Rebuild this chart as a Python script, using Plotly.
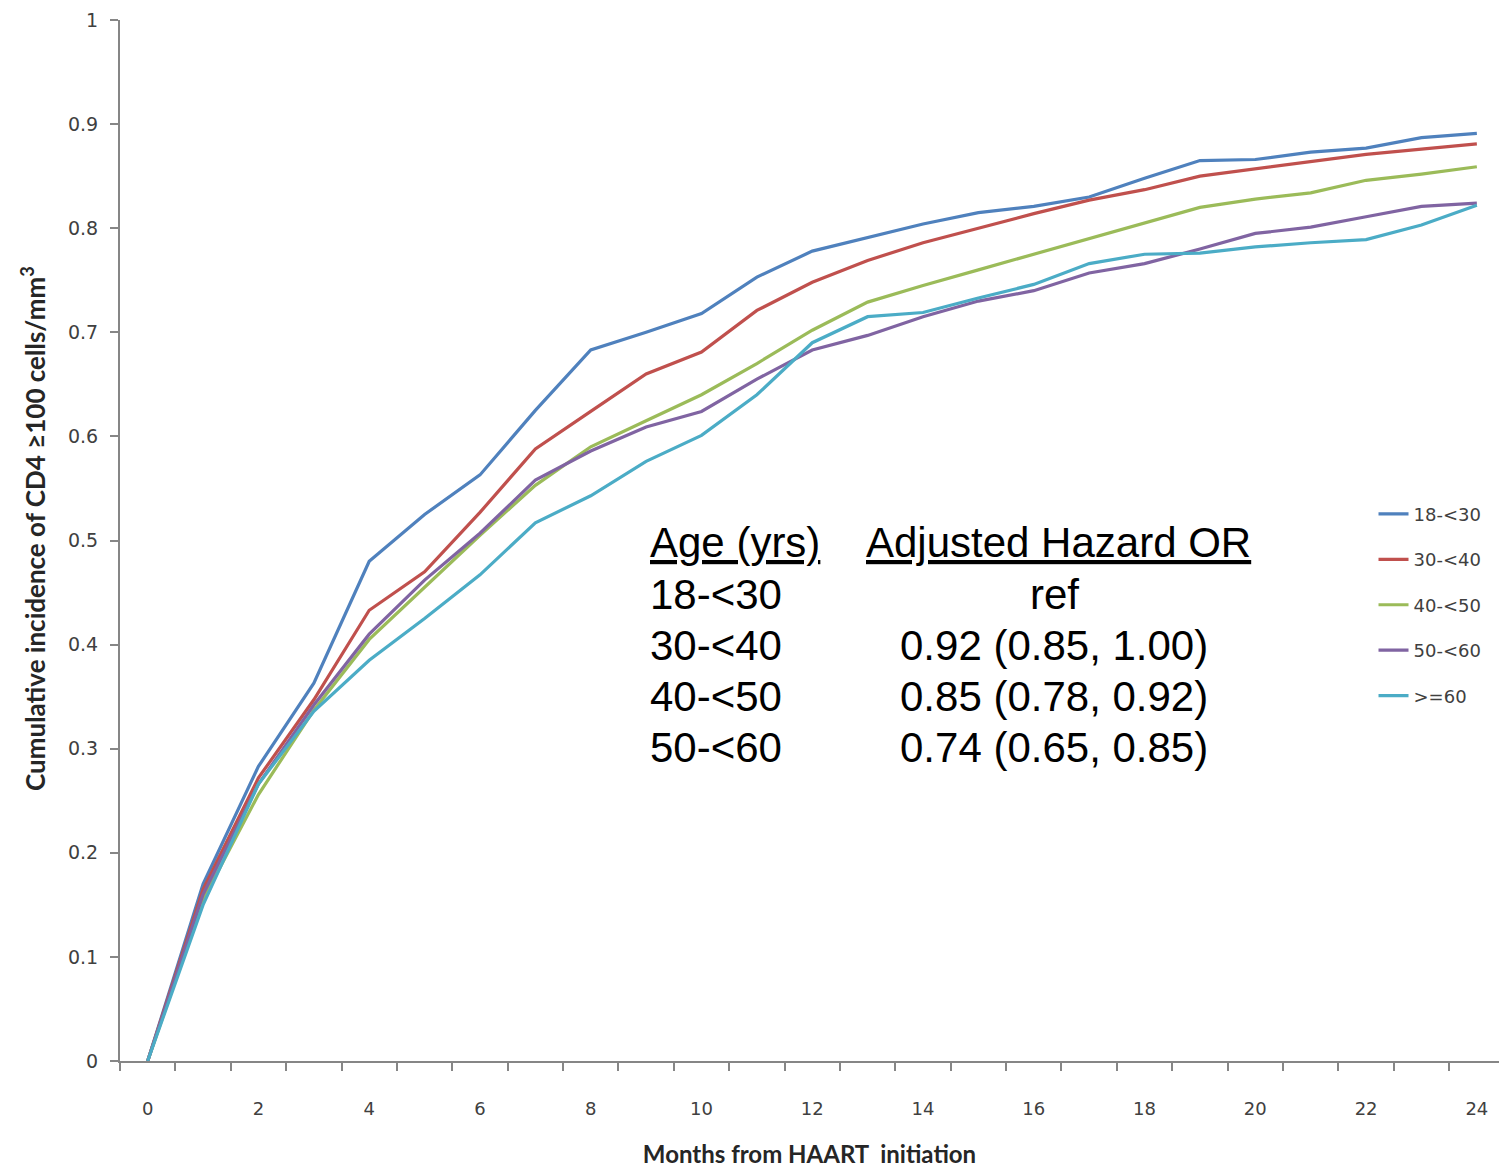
import plotly.graph_objects as go

months = list(range(25))
series_names = ["18-<30", "30-<40", "40-<50", "50-<60", ">=60"]
colors = ["#4F81BD", "#C0504D", "#9BBB59", "#8064A2", "#4BACC6"]

age_18_30 = [0, 0.17, 0.283, 0.363, 0.48, 0.525, 0.563, 0.625, 0.683, 0.70, 0.718, 0.753, 0.778,
             0.791, 0.804, 0.815, 0.821, 0.830, 0.848, 0.865, 0.866, 0.873, 0.877, 0.887, 0.891]
age_30_40 = [0, 0.165, 0.272, 0.347, 0.433, 0.470, 0.527, 0.588, 0.624, 0.660, 0.681, 0.721, 0.748,
             0.769, 0.786, 0.800, 0.814, 0.827, 0.837, 0.850, 0.857, 0.864, 0.871, 0.876, 0.881]
age_40_50 = [0, 0.155, 0.256, 0.337, 0.405, 0.455, 0.505, 0.553, 0.590, 0.615, 0.640, 0.670, 0.702,
             0.729, 0.745, 0.760, 0.775, 0.790, 0.805, 0.820, 0.828, 0.834, 0.846, 0.852, 0.859]
age_50_60 = [0, 0.160, 0.266, 0.342, 0.410, 0.462, 0.507, 0.558, 0.586, 0.609, 0.624, 0.655, 0.683,
             0.697, 0.715, 0.730, 0.740, 0.757, 0.766, 0.780, 0.795, 0.801, 0.811, 0.821, 0.824]
age_60_plus = [0, 0.150, 0.266, 0.336, 0.385, 0.425, 0.467, 0.517, 0.543, 0.576, 0.601, 0.640, 0.690,
               0.715, 0.719, 0.733, 0.746, 0.766, 0.775, 0.776, 0.782, 0.786, 0.789, 0.803, 0.822]
all_series = [age_18_30, age_30_40, age_40_50, age_50_60, age_60_plus]

x_tick_vals = list(range(0, 25, 2))
x_minor_ticks = [m - 0.5 for m in range(26)]
y_tick_vals = [0, 0.1, 0.2, 0.3, 0.4, 0.5, 0.6, 0.7, 0.8, 0.9, 1]
y_tick_text = ["0", "0.1", "0.2", "0.3", "0.4", "0.5", "0.6", "0.7", "0.8", "0.9", "1"]

y_title = "<b>Cumulative incidence of CD4 \u2265100 cells/mm<sup>3</sup></b>"
x_title = "<b>Months from HAART  initiation</b>"

table_header = ["Age (yrs)", "Adjusted Hazard OR"]
table_ages = ["18-<30", "30-<40", "40-<50", "50-<60"]
table_or = ["ref", "0.92 (0.85, 1.00)", "0.85 (0.78, 0.92)", "0.74 (0.65, 0.85)"]

fig = go.Figure()
for i, (name, vals) in enumerate(zip(series_names, all_series)):
    fig.add_trace(go.Scatter(x=months, y=vals, mode="lines", name=name,
                             legendgroup=str(i),
                             line=dict(color=colors[i], width=3.2)))

axis_grey = "#868686"
x_tick_font = dict(family="DejaVu Sans", size=18, color="#404040")
y_tick_font = dict(family="DejaVu Sans", size=19, color="#404040")

fig.update_layout(
    width=1499, height=1168,
    margin=dict(l=120, r=0, t=20, b=107),
    plot_bgcolor="white", paper_bgcolor="white",
    showlegend=True,
    legend=dict(x=0.909, xanchor="left", y=0.543, yanchor="top",
                font=dict(family="DejaVu Sans", size=18, color="#404040"),
                tracegroupgap=19, bgcolor="rgba(0,0,0,0)", itemwidth=30),
    xaxis=dict(range=[-0.5, 24.4], tickmode="array", tickvals=x_tick_vals,
               ticks="", showgrid=False, zeroline=False,
               showline=True, linecolor=axis_grey, linewidth=2,
               tickfont=x_tick_font, ticklabelstandoff=30,
               minor=dict(tickmode="array", tickvals=x_minor_ticks, ticks="outside",
                          ticklen=8, tickwidth=1.5, tickcolor=axis_grey, showgrid=False),
               title=dict(text=x_title,
                          font=dict(family="Lato", size=24, color="#262626"), standoff=30)),
    yaxis=dict(range=[0, 1], tickmode="array", tickvals=y_tick_vals, ticktext=y_tick_text,
               ticks="outside", ticklen=8, tickwidth=1.5, tickcolor=axis_grey,
               showgrid=False, zeroline=False,
               showline=True, linecolor=axis_grey, linewidth=2,
               tickfont=y_tick_font, ticklabelstandoff=8),
)

fig.add_annotation(x=-0.0631, y=0.512, xref="paper", yref="paper", xanchor="center", yanchor="middle",
                   text=y_title, textangle=-90, showarrow=False,
                   font=dict(family="Lato", size=26, color="#262626"))

txt_font = dict(family="Liberation Sans", size=42, color="black")
row_y = [0.4486, 0.3996, 0.3506, 0.3016]
fig.add_annotation(x=0.3829, y=0.4976, xref="paper", yref="paper", xanchor="left", yanchor="middle",
                   text="<u>" + table_header[0] + "</u>", showarrow=False, font=txt_font)
fig.add_annotation(x=0.6803, y=0.4976, xref="paper", yref="paper", xanchor="center", yanchor="middle",
                   text="<u>" + table_header[1] + "</u>", showarrow=False, font=txt_font)
for yy, a, o in zip(row_y, table_ages, table_or):
    fig.add_annotation(x=0.3829, y=yy, xref="paper", yref="paper", xanchor="left", yanchor="middle",
                       text=a, showarrow=False, font=txt_font)
    fig.add_annotation(x=0.6775, y=yy, xref="paper", yref="paper", xanchor="center", yanchor="middle",
                       text=o, showarrow=False, font=txt_font)

fig.write_html("out.html", config={"displayModeBar": False},
               post_script="document.body.style.margin='0';document.body.style.overflow='hidden';")
